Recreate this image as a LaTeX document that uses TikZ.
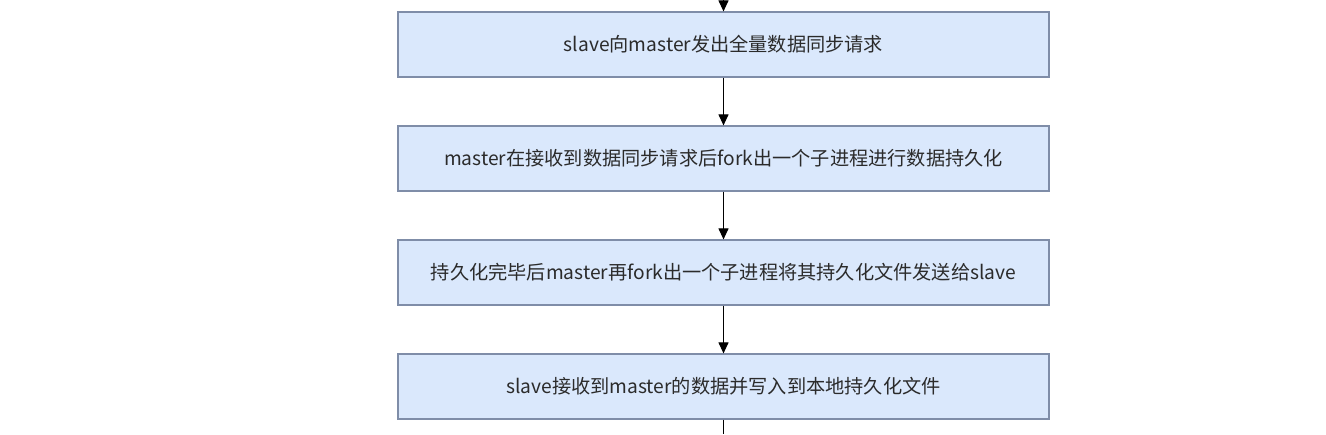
\documentclass[tikz,border=0pt]{standalone}
\usepackage{fontspec}
\setmainfont{Noto Sans CJK SC}
\usetikzlibrary{arrows.meta}
\definecolor{boxfill}{HTML}{DAE8FC}
\definecolor{boxline}{HTML}{7F8DA8}
\definecolor{txt}{HTML}{2B2B2B}
\begin{document}
\begin{tikzpicture}[x=1pt,y=-1pt,
  stepbox/.style={draw=boxline, line width=1.2pt, fill=boxfill, minimum width=651pt, minimum height=65pt, inner sep=0pt, text=txt, font=\fontsize{19.2}{22}\selectfont},
  conn/.style={draw=black, line width=1.1pt, -{Triangle[length=11pt,width=10pt]}}]
\useasboundingbox (0,0) rectangle (1326,434);
\node[stepbox] (b1) at (723.5,44.5) {slave向master发出全量数据同步请求};
\node[stepbox] (b2) at (723.5,158.5) {master在接收到数据同步请求后fork出一个子进程进行数据持久化};
\node[stepbox] (b3) at (723.5,272.5) {持久化完毕后master再fork出一个子进程将其持久化文件发送给slave};
\node[stepbox] (b4) at (723.5,386.5) {slave接收到master的数据并写入到本地持久化文件};
\coordinate (top) at (723.5,0);
\coordinate (bot) at (723.5,434);
\draw[conn] (top) -- (b1.north);
\draw[conn] (b1) -- (b2);
\draw[conn] (b2) -- (b3);
\draw[conn] (b3) -- (b4);
\draw[line width=1.1pt] (b4.south) -- (bot);
\end{tikzpicture}
\end{document}
